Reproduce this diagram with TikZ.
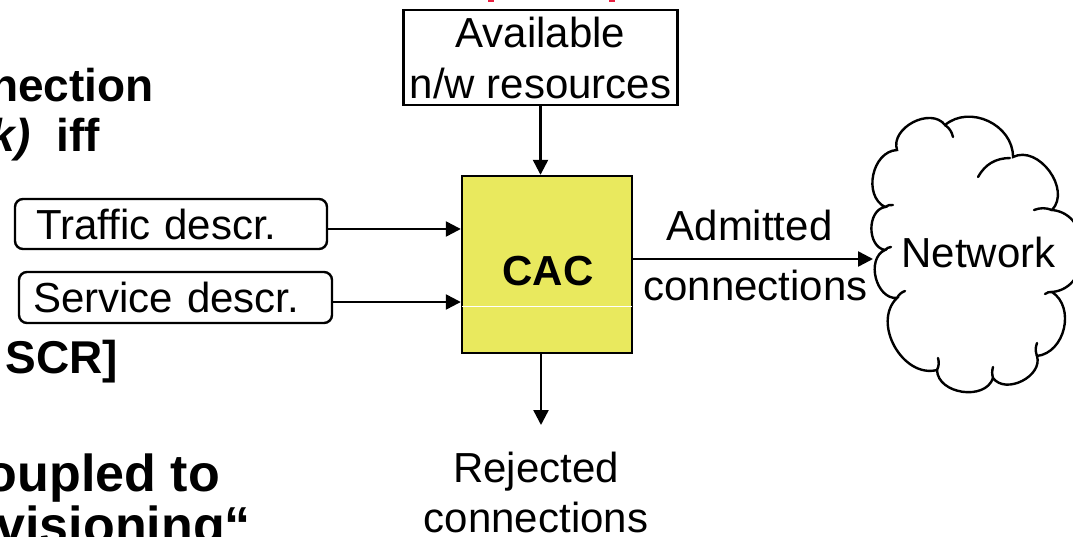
\documentclass[tikz,border=0pt]{standalone}
\usepackage{fontspec}
\setmainfont{Liberation Sans}
\usetikzlibrary{arrows.meta}

\definecolor{cacyellow}{RGB}{233,233,94}
\definecolor{slidered}{RGB}{232,32,64}

\begin{document}
\begin{tikzpicture}[x=1pt,y=-1pt,line width=2.4pt,
  lbl/.style={font=\fontsize{42}{50}\selectfont, inner sep=0pt},
  bodytxt/.style={font=\fontsize{46}{50}\selectfont\bfseries, inner sep=0pt, anchor=base east},
  bodybig/.style={bodytxt, font=\fontsize{52}{50}\selectfont\bfseries},
  flow/.style={-{Triangle[length=15pt,width=15pt]}},
  descbox/.style={draw, rounded corners=8pt, font=\fontsize{42}{50}\selectfont,
    inner ysep=0pt, align=left},
  cloudline/.style={line width=2.4pt, line cap=round}
]
\useasboundingbox (0,0) rectangle (1073,537);

% feet of the red brackets from the heading above
\fill[slidered] (488,0) rectangle (494,2);
\fill[slidered] (609,0) rectangle (615,2);

% bold body text of the slide, running in from the left
\node[bodytxt] (t1) at (155,102) {nection};
\node[bodytxt] (t2) at (101,152) {{\itshape k)}\ \ iff};
\node[bodytxt] (t3) at (119,373) {SCR]};
\node[bodybig] (t4) at (221,491) {oupled to};
\node[bodybig] (t5) at (252,543) {visioning``};

% descriptor boxes
\node[descbox, inner xsep=21pt, text width=270pt, minimum height=50pt] (traffic) at (171,224) {Traffic descr.};
\node[descbox, inner xsep=14pt, text width=285pt, minimum height=51pt] (service) at (175.5,297.5) {Service descr.};

% admission control block
\node[draw, fill=cacyellow, minimum width=170pt, minimum height=177pt, inner sep=0pt] (cac) at (547,264.5) {};
\draw[white, line width=1pt] ([xshift=1.2pt,yshift=-41.5pt]cac.west) -- ([xshift=-1.2pt,yshift=-41.5pt]cac.east);
\node[font=\fontsize{42}{50}\selectfont\bfseries, inner sep=0pt, anchor=base] (caclbl) at (548,285) {CAC};

% resources box
\node[draw, minimum width=274pt, minimum height=95pt, align=center,
  font=\fontsize{42}{51}\selectfont, inner sep=0pt] (avail) at (540.5,57.5) {Available\\n/w resources};

% inputs
\draw[flow] (avail.south) -- (avail.south |- cac.north);
\draw[flow] ([yshift=-5pt]traffic.east) -- ([yshift=-5pt]traffic.east -| cac.west);
\draw[flow] ([yshift=-4.5pt]service.east) -- ([yshift=-4.5pt]service.east -| cac.west);

% rejected output
\coordinate (rejtip) at (541,425);
\draw[flow] (cac.south -| rejtip) -- (rejtip);
\node[lbl, align=center] (rej) at (536,492) {Rejected\\connections};

% admitted output
\coordinate (netin) at (873,259);
\draw[flow] (cac.east |- netin) -- (netin);
\node[lbl, anchor=base] (adm1) at (749.5,241) {Admitted};
\node[lbl, anchor=base] (adm2) at (755.5,300) {connections};

% network cloud
\draw[cloudline]
  (897,150) to[bend left=80, looseness=1.1] (945,125)
            to[bend left=65, looseness=1.1] (1013,157)
            to[bend left=80, looseness=1.1] (1052,210)
            to[bend left=85, looseness=1.3] (1052,292)
            to[bend left=70, looseness=1.1] (1037,356)
            to[bend left=80, looseness=1.1] (993,378)
            to[bend left=80, looseness=1.1] (937,370)
            to[bend left=75, looseness=1.1] (897,298)
            to[bend left=80, looseness=1.1] (885,250)
            to[bend left=80, looseness=1.1] (885,207)
            to[bend left=75, looseness=1.1] cycle;
% inner fragments of the overlapping lobes
\draw[cloudline] (945,125) to[bend left=20] (953,137);
\draw[cloudline] (978,177) to[bend left=30] (1010,158);
\draw[cloudline] (1052,210) to[bend right=20] (1034,210);
\draw[cloudline] (1052,292) to[bend right=20] (1045,294);
\draw[cloudline] (1037,356) to[bend left=20] (1037,343);
\draw[cloudline] (993,378) to[bend left=15] (993,367);
\draw[cloudline] (937,370) to[bend right=20] (938,358);
\draw[cloudline] (897,298) to[bend left=20] (905,291);
\draw[cloudline] (885,250) to[bend left=20] (891,247);
\draw[cloudline] (885,207) to[bend left=20] (893,205);
\node[lbl, anchor=base] (net) at (978.5,268) {Network};
\end{tikzpicture}
\end{document}
